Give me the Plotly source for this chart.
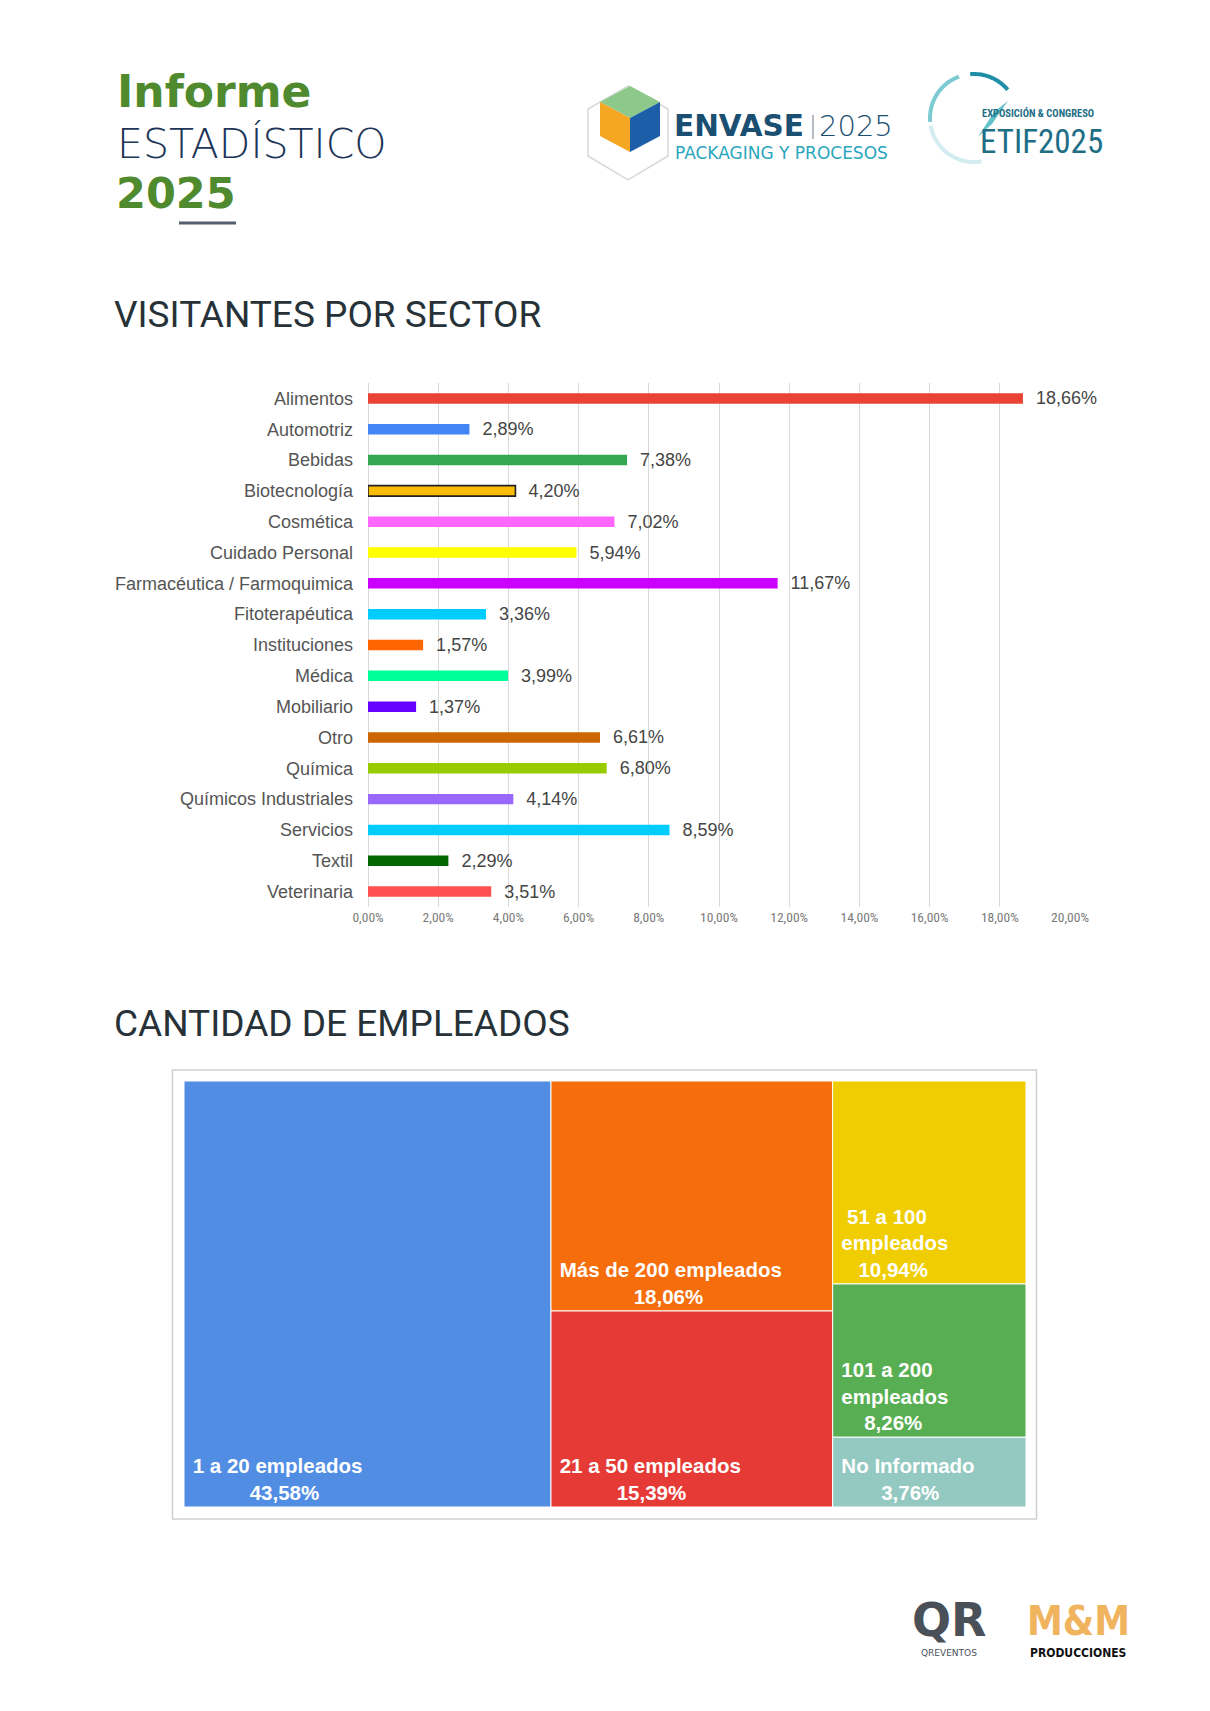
import numpy as np
import plotly.graph_objects as go

W, H = 1210, 1711

# ---------------- data ----------------
sectors = ["Alimentos", "Automotriz", "Bebidas", "Biotecnología", "Cosmética",
           "Cuidado Personal", "Farmacéutica / Farmoquimica", "Fitoterapéutica",
           "Instituciones", "Médica", "Mobiliario", "Otro", "Química",
           "Químicos Industriales", "Servicios", "Textil", "Veterinaria"]
sector_pct = [18.66, 2.89, 7.38, 4.20, 7.02, 5.94, 11.67, 3.36, 1.57, 3.99,
              1.37, 6.61, 6.80, 4.14, 8.59, 2.29, 3.51]
sector_colors = ["#EA4335", "#4285F4", "#34A853", "#FBBC04", "#FF66FF",
                 "#FFFF00", "#CC00FF", "#00CCFF", "#FF6600", "#00FF99",
                 "#6600FF", "#CC6600", "#99CC00", "#9966FF", "#00CCFF",
                 "#006600", "#FF5050"]
x_ticks = [0, 2, 4, 6, 8, 10, 12, 14, 16, 18, 20]

emp_labels = ["1 a 20 empleados", "Más de 200 empleados", "21 a 50 empleados",
              "51 a 100 empleados", "101 a 200 empleados", "No Informado"]
emp_lines = [["1 a 20 empleados"], ["Más de 200 empleados"], ["21 a 50 empleados"],
             ["51 a 100", "empleados"], ["101 a 200", "empleados"], ["No Informado"]]
emp_pct = [43.58, 18.06, 15.39, 10.94, 8.26, 3.76]
emp_colors = ["#518DE3", "#F66D0B", "#E53A36", "#EFCD00", "#58AE52", "#93C9C1"]


def pct(v):
    return f"{v:.2f}%".replace(".", ",")


def PX(x):
    return x / W


def PY(y):
    return 1 - y / H


def centered_block(lines):
    """Pad shorter lines with non-breaking spaces so the block looks centred."""
    longest = max(len(s) for s in lines)
    out = []
    for s in lines:
        n = 1 + int(round((longest - len(s)) * 0.95))
        out.append("&nbsp;" * n + s)
    return "<br>".join(f"<b>{s}</b>" for s in out)


fig = go.Figure()

# ---------------- bar chart ----------------
line_w = [1.6 if s == "Biotecnología" else 0 for s in sectors]
fig.add_trace(go.Bar(
    y=sectors, x=sector_pct, orientation="h",
    marker=dict(color=sector_colors, line=dict(color="#222222", width=line_w)),
    width=0.34,
    text=["  " + pct(v) for v in sector_pct],
    textposition="outside",
    constraintext="none",
    textfont=dict(family="Liberation Sans, Arial, sans-serif", size=18, color="#454545"),
    cliponaxis=False,
    hoverinfo="skip",
    showlegend=False,
))

fig.update_layout(
    xaxis=dict(domain=[PX(368), PX(1070)], range=[0, 20], tickvals=x_ticks,
               ticktext=[f"{t:.2f}%".replace(".", ",") for t in x_ticks],
               showgrid=True, gridcolor="#D9D9D9", gridwidth=1.2,
               zeroline=True, zerolinecolor="#D9D9D9", zerolinewidth=1.2,
               tickfont=dict(family="Liberation Sans Narrow, Arial Narrow, Roboto Condensed, Roboto, sans-serif",
                             size=13.5, color="#7A7A7A"),
               ticks="", fixedrange=True, automargin=False),
    yaxis=dict(domain=[PY(907), PY(383)], autorange="reversed",
               tickfont=dict(family="Liberation Sans, Arial, sans-serif", size=18, color="#555555"),
               showgrid=False, ticks="", ticklabelstandoff=14, fixedrange=True,
               automargin=False),
)

# ---------------- treemap ----------------
fig.add_trace(go.Treemap(
    labels=emp_labels,
    parents=[""] * len(emp_labels),
    values=emp_pct,
    text=[centered_block(lines + [pct(v)]) for lines, v in zip(emp_lines, emp_pct)],
    texttemplate="%{text}",
    textposition="bottom left",
    insidetextfont=dict(family="Liberation Sans, Arial, sans-serif", size=20.5, color="white"),
    marker=dict(colors=emp_colors, line=dict(color="white", width=1),
                pad=dict(t=0, l=0, r=0, b=0)),
    tiling=dict(pad=0, packing="squarify"),
    pathbar=dict(visible=False),
    sort=True,
    hoverinfo="skip",
    domain=dict(x=[PX(184), PX(1026)], y=[PY(1507), PY(1081)]),
))

# ---------------- decoration ----------------
shapes = []
annotations = []

# treemap frame
shapes.append(dict(type="rect", xref="paper", yref="paper",
                   x0=PX(172.5), x1=PX(1036.5), y0=PY(1519), y1=PY(1070),
                   line=dict(color="#CFCFCF", width=1.5), fillcolor="rgba(0,0,0,0)"))

# underline under 2025
shapes.append(dict(type="line", xref="paper", yref="paper",
                   x0=PX(179), x1=PX(236), y0=PY(223), y1=PY(223),
                   line=dict(color="#555E6B", width=3)))

GREEN = "#4F8A2E"
NAVY = "#1D3557"


def ann(text, x, y, size, color, family, weight=400, xanchor="left", yanchor="middle"):
    annotations.append(dict(text=text, x=PX(x), y=PY(y), xref="paper", yref="paper",
                            xanchor=xanchor, yanchor=yanchor, showarrow=False,
                            borderpad=0,
                            font=dict(size=size, color=color, family=family, weight=weight)))


ann("Informe", 116, 92, 44, GREEN, "DejaVu Sans, sans-serif", 700)
ann("ESTADÍSTICO", 116, 144, 41, NAVY, "DejaVu Sans, sans-serif", 200)
ann("2025", 115, 193, 43, GREEN, "DejaVu Sans, sans-serif", 700)

ann("VISITANTES POR SECTOR", 113, 314, 37, "#263238", "Roboto, sans-serif")
ann("CANTIDAD DE EMPLEADOS", 113, 1023, 37, "#263238", "Roboto, sans-serif")


# ENVASE logo (cube + text)
def poly(points, fill, line="rgba(0,0,0,0)", lw=0):
    p = "M " + " L ".join(f"{PX(a):.5f},{PY(b):.5f}" for a, b in points) + " Z"
    shapes.append(dict(type="path", xref="paper", yref="paper", path=p,
                       fillcolor=fill, line=dict(color=line, width=lw)))


cx = 628
poly([(cx, 86), (cx + 40, 109), (cx + 40, 156), (cx, 180), (cx - 40, 156), (cx - 40, 109)],
     "rgba(0,0,0,0)", "#D8D8D8", 1.5)
poly([(cx + 2, 86), (cx + 32, 102), (cx + 2, 118), (cx - 28, 102)], "#8CC98A")
poly([(cx - 28, 102), (cx + 2, 118), (cx + 2, 152), (cx - 28, 136)], "#F5A623")
poly([(cx + 2, 118), (cx + 32, 102), (cx + 32, 136), (cx + 2, 152)], "#1C5FA8")

ann("ENVASE", 673, 126, 29.5, "#1B4F72", "DejaVu Sans, sans-serif", 700)
shapes.append(dict(type="line", xref="paper", yref="paper",
                   x0=PX(813), x1=PX(813), y0=PY(115), y1=PY(139),
                   line=dict(color="#9AA5B1", width=1.5)))
ann("2025", 818, 126, 29, "#1B4F72", "DejaVu Sans, sans-serif", 200)
ann("PACKAGING Y PROCESOS", 674, 153, 17, "#2AA6BD", "DejaVu Sans, sans-serif", 400)


# ETIF logo
def arc(a0, a1, color):
    pts = [(974 + 44 * np.cos(a), 118 - 44 * np.sin(a)) for a in np.linspace(np.deg2rad(a0), np.deg2rad(a1), 25)]
    path = "M " + " L ".join(f"{PX(a):.5f},{PY(b):.5f}" for a, b in pts)
    shapes.append(dict(type="path", xref="paper", yref="paper", path=path,
                       line=dict(color=color, width=4)))


arc(95, 40, "#1E8FA6")
arc(110, 185, "#7CCBD2")
arc(190, 280, "#D3ECEF")
poly([(1008, 101), (994, 112), (978, 137), (992, 124)], "#63C1C9")
ann("EXPOSICIÓN &amp; CONGRESO", 981, 114, 10.5, "#1E6E86", "Roboto Condensed, Roboto, sans-serif", 700)
ann("ETIF2025", 979, 142, 33, "#1E6E86", "Roboto Condensed, Roboto, sans-serif", 400)

# bottom logos
ann("QR", 949, 1620, 46, "#4A5058", "DejaVu Sans, sans-serif", 700, xanchor="center")
ann("QREVENTOS", 949, 1653, 9, "#4A5058", "DejaVu Sans, sans-serif", 400, xanchor="center")
ann("M&amp;M", 1078, 1621, 40, "#F0B35E", "DejaVu Sans Condensed, DejaVu Sans, sans-serif", 700, xanchor="center")
ann("PRODUCCIONES", 1078, 1653, 12, "#111111", "DejaVu Sans Condensed, DejaVu Sans, sans-serif", 700, xanchor="center")

fig.update_layout(
    width=W, height=H,
    margin=dict(l=0, r=0, t=0, b=0, autoexpand=False),
    paper_bgcolor="white", plot_bgcolor="white",
    shapes=shapes, annotations=annotations,
    font=dict(family="Roboto, Arial, sans-serif"),
)

fig.write_html("out.html")
